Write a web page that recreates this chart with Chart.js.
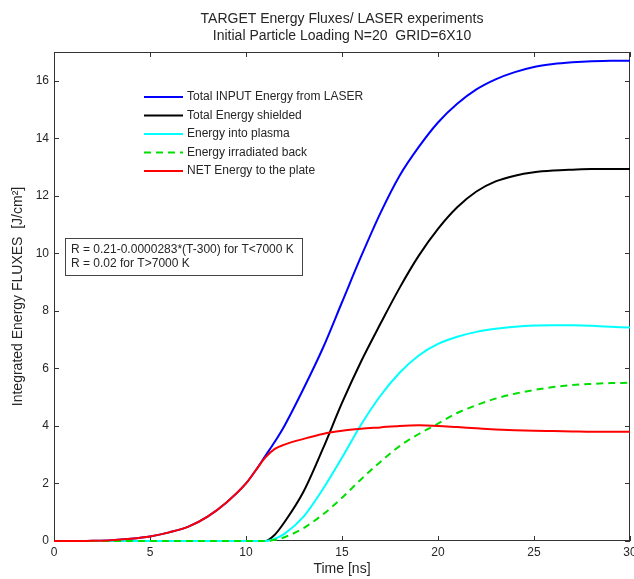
<!DOCTYPE html>
<html>
<head>
<meta charset="utf-8">
<script src="https://cdn.jsdelivr.net/npm/chart.js@4/dist/chart.umd.min.js"></script>
<style>
  html, body { margin: 0; padding: 0; background: #fff; }
  #wrap { width: 634px; height: 579px; }
</style>
</head>
<body>
<div id="wrap"><canvas id="chart" width="634" height="579"></canvas></div>
<script>
// time axis [ns]
const times = [0, 1, 2, 3, 4, 5, 6, 7, 8, 9, 10, 10.5, 11, 11.5, 12, 13, 14, 15, 16, 17, 18, 19, 20, 21, 22, 23, 24, 25, 26, 27, 28, 29, 30];

// integrated energy fluxes [J/cm^2]
const totalInput = [0, 0, 0.01, 0.03, 0.08, 0.16, 0.3, 0.5, 0.85, 1.35, 2.0, 2.45, 2.95, 3.45, 4.0, 5.3, 6.7, 8.3, 9.9, 11.4, 12.7, 13.7, 14.55, 15.2, 15.7, 16.05, 16.3, 16.48, 16.58, 16.64, 16.68, 16.7, 16.7];
const totalShielded = [0, 0, 0, 0, 0, 0, 0, 0, 0, 0, 0, 0, 0, 0.22, 0.65, 1.72, 3.2, 4.8, 6.25, 7.55, 8.8, 9.92, 10.85, 11.6, 12.15, 12.5, 12.7, 12.82, 12.88, 12.91, 12.93, 12.93, 12.93];
const intoPlasma = [0, 0, 0, 0, 0, 0, 0, 0, 0, 0, 0, 0, 0, 0.08, 0.25, 0.85, 1.8, 2.9, 4.05, 5.05, 5.85, 6.45, 6.85, 7.1, 7.27, 7.38, 7.45, 7.49, 7.5, 7.5, 7.48, 7.45, 7.42];
const irradiatedBack = [0, 0, 0, 0, 0, 0, 0, 0, 0, 0, 0, 0, 0, 0.04, 0.13, 0.45, 0.92, 1.5, 2.15, 2.75, 3.3, 3.72, 4.08, 4.45, 4.72, 4.95, 5.12, 5.25, 5.35, 5.42, 5.46, 5.49, 5.5];
const netToPlate = [0, 0, 0.01, 0.03, 0.08, 0.16, 0.3, 0.5, 0.85, 1.35, 2.0, 2.45, 2.9, 3.2, 3.35, 3.55, 3.72, 3.83, 3.9, 3.95, 4.0, 4.02, 4.0, 3.96, 3.92, 3.88, 3.85, 3.83, 3.82, 3.81, 3.8, 3.8, 3.8];

const seriesLabels = [
    'Total INPUT Energy from LASER',
    'Total Energy shielded',
    'Energy into plasma',
    'Energy irradiated back',
    'NET Energy to the plate'
];
const noteLines = [
    'R = 0.21-0.0000283*(T-300) for T<7000 K',
    'R = 0.02 for T>7000 K'
];
const xTicks = [0, 5, 10, 15, 20, 25, 30];
const yTicks = [0, 2, 4, 6, 8, 10, 12, 14, 16];

const FONT = "'Liberation Sans', Arial, sans-serif";
const TEXT = '#262626';

const toPoints = ys => ys.map((y, i) => ({ x: times[i], y: y }));

const makeSet = (label, ys, color, order, dash) => ({
    label: label,
    data: toPoints(ys),
    borderColor: color,
    backgroundColor: color,
    borderWidth: 2,
    borderDash: dash || [],
    pointRadius: 0,
    fill: false,
    clip: 3,
    cubicInterpolationMode: 'monotone',
    order: order
});

// MATLAB-like frame: box on all sides with inward ticks
const framePlugin = {
    id: 'frame',
    beforeDatasetsDraw(chart) {
        const { ctx, chartArea: a, scales } = chart;
        ctx.save();
        ctx.strokeStyle = '#333';
        ctx.lineWidth = 1;
        ctx.setLineDash([]);
        ctx.strokeRect(a.left + 0.5, a.top + 0.5, a.right - a.left - 1, a.bottom - a.top - 1);
        const len = 5;
        ctx.beginPath();
        xTicks.forEach(v => {
            const px = Math.round(scales.x.getPixelForValue(v)) + 0.5;
            ctx.moveTo(px, a.bottom); ctx.lineTo(px, a.bottom - len);
            ctx.moveTo(px, a.top); ctx.lineTo(px, a.top + len);
        });
        yTicks.forEach(v => {
            const py = Math.round(scales.y.getPixelForValue(v)) + 0.5;
            ctx.moveTo(a.left, py); ctx.lineTo(a.left + len, py);
            ctx.moveTo(a.right, py); ctx.lineTo(a.right - len, py);
        });
        ctx.stroke();
        ctx.restore();
    }
};

// legend and note box inside the axes
const insidePlugin = {
    id: 'inside',
    afterDraw(chart) {
        const { ctx, chartArea: a } = chart;
        ctx.save();
        ctx.font = '12px ' + FONT;
        ctx.textBaseline = 'middle';
        const lx = a.left + 90, ly = a.top + 45;
        chart.data.datasets.forEach((ds, i) => {
            const y = ly + i * 18.5;
            ctx.strokeStyle = ds.borderColor;
            ctx.lineWidth = 2;
            ctx.setLineDash(ds.borderDash);
            ctx.beginPath();
            ctx.moveTo(lx, y); ctx.lineTo(lx + 39, y);
            ctx.stroke();
            ctx.fillStyle = TEXT;
            ctx.fillText(ds.label, lx + 43, y);
        });

        const bx = a.left + 11, by = a.top + 186, bw = 237, bh = 37;
        ctx.setLineDash([]);
        ctx.fillStyle = '#fff';
        ctx.fillRect(bx, by, bw, bh);
        ctx.strokeStyle = '#444';
        ctx.lineWidth = 1;
        ctx.strokeRect(bx + 0.5, by + 0.5, bw, bh);
        ctx.fillStyle = TEXT;
        noteLines.forEach((t, i) => ctx.fillText(t, bx + 6, by + 12 + i * 13.5));
        ctx.restore();
    }
};

new Chart(document.getElementById('chart'), {
    type: 'line',
    data: {
        datasets: [
            makeSet(seriesLabels[0], totalInput, '#0000ff', 5),
            makeSet(seriesLabels[1], totalShielded, '#000000', 4),
            makeSet(seriesLabels[2], intoPlasma, '#00ffff', 3),
            makeSet(seriesLabels[3], irradiatedBack, '#00e000', 2, [7, 5]),
            makeSet(seriesLabels[4], netToPlate, '#ff0000', 1)
        ]
    },
    options: {
        responsive: false,
        animation: false,
        layout: { padding: { left: 0, right: 4, top: 0, bottom: 0 } },
        plugins: {
            legend: { display: false },
            tooltip: { enabled: false },
            title: {
                display: true,
                fullSize: false,
                text: ['TARGET Energy Fluxes/ LASER experiments', 'Initial Particle Loading N=20  GRID=6X10'],
                color: TEXT,
                font: { family: FONT, size: 14, weight: 'normal', lineHeight: 1.2 },
                padding: { top: 10.6, bottom: 7.8 }
            }
        },
        scales: {
            x: {
                type: 'linear',
                min: 0,
                max: 30,
                afterFit(scale) {
                    scale.height = 38;
                    scale.paddingLeft = 0;
                    scale.paddingRight = 0;
                },
                afterBuildTicks(scale) { scale.ticks = xTicks.map(v => ({ value: v })); },
                grid: { display: false, drawTicks: false },
                border: { display: false },
                ticks: { color: TEXT, padding: 4, maxRotation: 0, font: { family: FONT, size: 12 } },
                title: {
                    display: true,
                    text: 'Time [ns]',
                    color: TEXT,
                    font: { family: FONT, size: 14 },
                    padding: { top: 0, bottom: 1 }
                }
            },
            y: {
                min: 0,
                max: 17,
                afterFit(scale) {
                    scale.width = 54;
                    scale.paddingTop = 0;
                    scale.paddingBottom = 0;
                },
                afterBuildTicks(scale) { scale.ticks = yTicks.map(v => ({ value: v })); },
                grid: { display: false, drawTicks: false },
                border: { display: false },
                ticks: { color: TEXT, padding: 5, font: { family: FONT, size: 12 } },
                title: {
                    display: true,
                    text: 'Integrated Energy FLUXES  [J/cm²]',
                    color: TEXT,
                    font: { family: FONT, size: 14 },
                    padding: { top: 10, bottom: 0 }
                }
            }
        }
    },
    plugins: [framePlugin, insidePlugin]
});
</script>
</body>
</html>
